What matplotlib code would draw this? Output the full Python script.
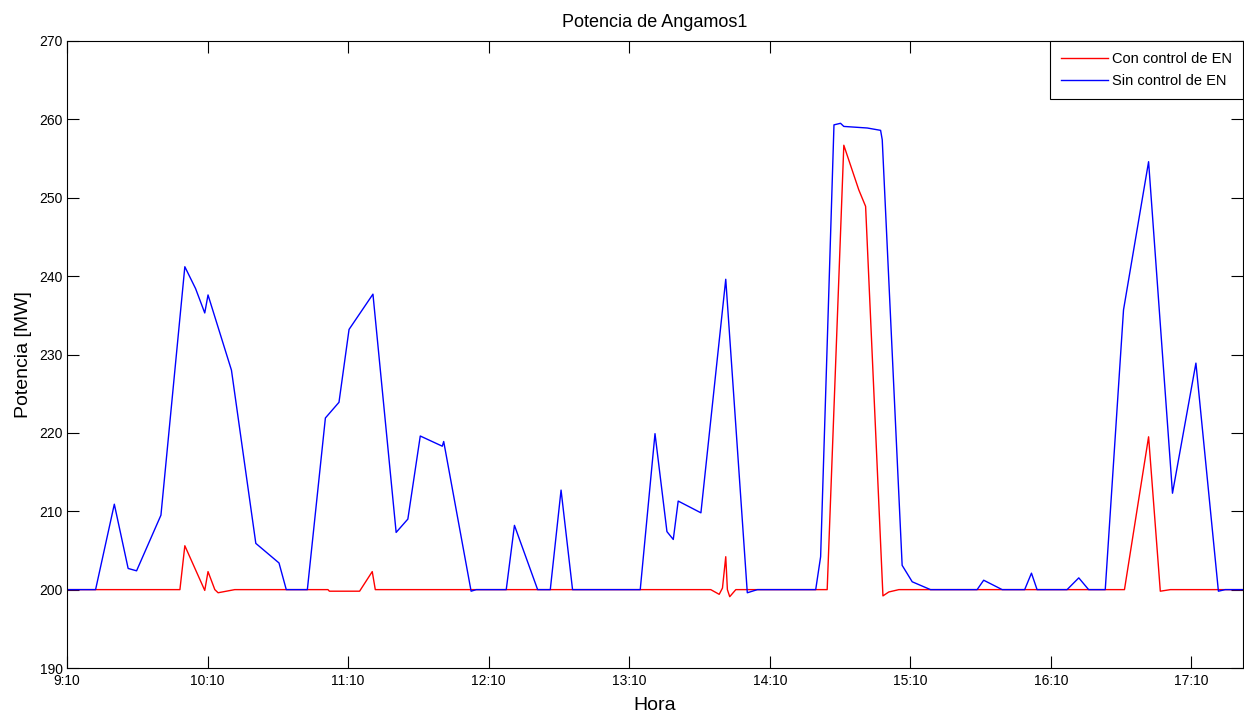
import matplotlib
matplotlib.use('Agg')
import matplotlib.pyplot as plt

plt.rcParams['font.family'] = ['Liberation Sans', 'DejaVu Sans']

# minutes after 9:10
t_sin = [0, 12.2, 20.2, 26.1, 29.7, 40.1, 50.3, 54.9, 58.8, 60.2, 70.2, 80.6, 90.5, 93.6,
         102.6, 110.3, 116.1, 120.4, 130.6, 140.5, 145.5, 150.8, 160.2, 160.8, 172.5, 174.7,
         187.5, 191, 200.9, 206.3, 210.9, 215.8, 244.7, 251, 256.1, 258.8, 260.9, 270.6,
         281.2, 290.4, 294.7, 319.6, 321.7, 327.4, 330.2, 331.6, 341.6, 347.3, 348, 356.5,
         360.8, 368.6, 388.5, 391.3, 399.2, 408.8, 411.7, 414.1, 426.9, 431.9, 436.1, 443.2,
         451.0, 461.7, 471.9, 481.9, 491.5, 494.4, 502]
p_sin = [200, 200, 210.9, 202.7, 202.4, 209.5, 241.2, 238.4, 235.3, 237.6, 228.0, 205.9, 203.4, 200,
         200, 221.9, 223.9, 233.2, 237.7, 207.3, 209.0, 219.6, 218.3, 218.9, 199.8, 200,
         200, 208.2, 200, 200, 212.7, 200, 200, 219.9, 207.4, 206.4, 211.3, 209.8,
         239.6, 199.6, 200, 200, 204.2, 259.3, 259.5, 259.1, 258.9, 258.6, 257.4, 203.1,
         201.0, 200, 200, 201.2, 200, 200, 202.1, 200, 200, 201.5, 200, 200,
         235.7, 254.6, 212.3, 228.9, 199.8, 200, 200]

t_con = [0, 48.2, 50.3, 58.8, 60.2, 63.1, 64.5, 71.6, 111.4, 112, 124.9, 130.3, 131.6,
         274.8, 278.4, 279.8, 281.2, 281.9, 282.9, 285.5, 324.5, 331.6, 338, 340.9, 348.3,
         350.8, 355.1, 451.4, 461.7, 466.7, 471, 502]
p_con = [200, 200, 205.6, 199.9, 202.3, 200, 199.6, 200, 200, 199.8, 199.8, 202.3, 200,
         200, 199.4, 200.2, 204.2, 200, 199.1, 200, 200, 256.7, 251.0, 248.9, 199.2,
         199.7, 200, 200, 219.5, 199.8, 200, 200]

xticks = [0, 60, 120, 180, 240, 300, 360, 420, 480]
xlabels = ['9:10', '10:10', '11:10', '12:10', '13:10', '14:10', '15:10', '16:10', '17:10']

fig = plt.figure(figsize=(12.44, 7.17), dpi=100)
ax = fig.add_axes([67/1244, 1-668/717, (1243-67)/1244, (668-41)/717])

ax.plot(t_con, p_con, color='#ff0000', lw=1.0, label='Con control de EN')
ax.plot(t_sin, p_sin, color='#0000ff', lw=1.0, label='Sin control de EN')

ax.set_xlim(0, 502)
ax.set_ylim(190, 270)
ax.set_xticks(xticks)
ax.set_xticklabels(xlabels)
ax.set_yticks(range(190, 271, 10))
ax.tick_params(direction='in', length=8.5, width=0.8, top=True, right=True,
               labelsize=10, pad=3)
ax.tick_params(axis='x', pad=4)
for s in ax.spines.values():
    s.set_linewidth(0.8)

ax.set_title('Potencia de Angamos1', fontsize=13, pad=10)
ax.set_xlabel('Hora', fontsize=14, labelpad=7)
ax.set_ylabel('Potencia [MW]', fontsize=14, labelpad=5)

leg = ax.legend(loc='upper right', fontsize=10.5, borderaxespad=0, fancybox=False,
                framealpha=1, edgecolor='black', handlelength=3.2, handletextpad=0.3,
                borderpad=0.75, labelspacing=0.55)
leg.get_frame().set_linewidth(0.8)

fig.savefig('out.png', dpi=100)
